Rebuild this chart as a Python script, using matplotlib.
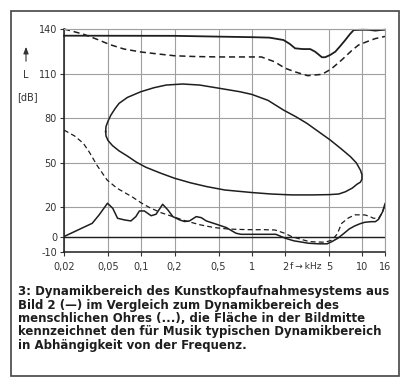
import matplotlib
matplotlib.use('Agg')
import matplotlib.pyplot as plt
from matplotlib.patches import Rectangle

# upper limit of the recording system (solid)
sys_top_f = [0.02, 0.2, 0.57, 1.0, 1.44, 1.93, 2.2, 2.46, 2.9, 3.37, 3.74, 4.3, 4.6, 5.1, 5.68, 6.3, 7.0, 7.7, 8.34, 10.0, 11.5, 13.1, 14.5, 16]
sys_top_L = [135.5, 135.4, 134.8, 134.5, 134.2, 132.6, 130, 127, 126.5, 126.5, 124.7, 121, 121, 122.5, 124.7, 128.5, 132.6, 136.5, 139.3, 139.5, 139.4, 138.9, 139.3, 139.5]

# upper limit of the human ear (dashed)
ear_top_f = [0.02, 0.03, 0.04, 0.052, 0.07, 0.1, 0.15, 0.2, 0.3, 0.5, 0.8, 1.22, 1.6, 2.0, 2.5, 3.2, 4.3, 5.2, 6.5, 8.0, 9.2, 11, 13, 16]
ear_top_L = [140, 136.5, 133, 129.5, 126.5, 124.5, 123, 122, 121.5, 121.2, 121.2, 121.2, 118, 113.6, 111, 108.6, 109.5, 113, 119.2, 125.5, 129.2, 131.5, 133.5, 135]

# typical dynamic range of music (closed area)
music_f = [0.0476, 0.048, 0.050, 0.053, 0.058, 0.063, 0.075, 0.099, 0.13, 0.168, 0.237, 0.337, 0.51, 0.78, 1.0, 1.4, 1.93, 2.5, 3.14, 4.0, 5.1, 6.4, 7.8, 8.8, 9.6, 9.9, 9.9, 9.6, 8.9, 8.1, 7.0, 6.1, 5.0, 3.5, 2.3, 1.5, 1.0, 0.57, 0.39, 0.28, 0.2, 0.15, 0.11, 0.09, 0.075, 0.063, 0.055, 0.050, 0.048, 0.0476]
music_L = [71, 74.5, 78, 82, 86.5, 90, 94, 97.8, 100.5, 102.3, 103, 102.3, 100.1, 97.8, 96, 92, 85.5, 81, 76.6, 71, 65.4, 59.5, 54.1, 50, 45, 42, 39, 37, 35.5, 33, 30.5, 29, 28.6, 28.4, 28.4, 29, 30, 31.7, 34, 36.5, 39.6, 43, 47, 50.5, 54.5, 58, 61.5, 65, 68, 71]

# hearing threshold (dashed)
ear_low_f = [0.02, 0.025, 0.03, 0.034, 0.04, 0.049, 0.06, 0.083, 0.1, 0.118, 0.15, 0.193, 0.25, 0.34, 0.45, 0.6, 0.75, 1.0, 1.3, 1.62, 2.0, 2.3, 2.8, 3.3, 4.0, 4.6, 5.3, 5.9, 6.5, 7.5, 8.6, 9.5, 10.6, 11.5, 12.6, 14.0, 15.0, 16]
ear_low_L = [72, 68, 63, 57, 48, 38.5, 33, 27, 23, 20, 16.5, 13.8, 11, 8.3, 6.5, 5.5, 5.2, 5, 5, 4.8, 2.5, 0.3, -1.5, -3, -3.3, -3.4, -2, 2, 9.3, 13, 15, 15, 14.9, 14, 12.7, 12.7, 16, 21]

# noise floor of the recording system (solid)
sys_low_f = [0.02, 0.036, 0.0415, 0.0495, 0.0552, 0.061, 0.0701, 0.0806, 0.0893, 0.0961, 0.1066, 0.1228, 0.136, 0.156, 0.174, 0.193, 0.222, 0.246, 0.273, 0.314, 0.349, 0.387, 0.477, 0.589, 0.65, 0.72, 0.8, 1.65, 2.0, 2.4, 2.75, 3.25, 4.0, 4.8, 5.3, 6.0, 6.8, 7.6, 8.5, 9.5, 10.5, 12.0, 13.1, 14.0, 15.2, 16]
sys_low_L = [0.4, 9.3, 14.9, 22.8, 19.4, 12.7, 11.6, 10.9, 13.8, 17.6, 17.6, 14.4, 15.4, 22.1, 18.3, 13.8, 11.6, 10.5, 10.9, 13.8, 13.1, 10.9, 8.7, 6.4, 4.5, 2.6, 1.9, 1.9, -0.7, -2.5, -3.2, -4.1, -4.5, -4.5, -3, -0.7, 2.5, 5.5, 7.5, 9, 10, 10.4, 10.4, 12, 17, 22.5]

x_ticks = [0.02, 0.05, 0.1, 0.2, 0.5, 1, 2, 5, 10, 16]
x_labels = ['0,02', '0,05', '0,1', '0,2', '0,5', '1', '2', '5', '10', '16']
y_ticks = [-10, 0, 20, 50, 80, 110, 140]
y_labels = ['-10', '0', '20', '50', '80', '110', '140']

caption = ['3: Dynamikbereich des Kunstkopfaufnahmesystems aus',
           'Bild 2 (\u2014) im Vergleich zum Dynamikbereich des',
           'menschlichen Ohres (...), die Fl\u00e4che in der Bildmitte',
           'kennzeichnet den f\u00fcr Musik typischen Dynamikbereich',
           'in Abh\u00e4ngigkeit von der Frequenz.']

W, H = 407, 377
fig = plt.figure(figsize=(W / 100, H / 100), dpi=100)
ax = fig.add_axes([64 / W, 1 - 252 / H, (385 - 64) / W, (252 - 29) / H])

ink = '#1e1e1e'
grid = '#a0a0a0'
label_col = '#333333'

ax.set_xscale('log')
ax.set_xlim(0.02, 16)
ax.set_ylim(-10, 140)
ax.set_xticks(x_ticks)
ax.set_xticklabels(x_labels)
ax.set_yticks(y_ticks)
ax.set_yticklabels(y_labels)
ax.minorticks_off()
ax.grid(True, color=grid, lw=0.8)
ax.set_axisbelow(True)
ax.tick_params(axis='both', labelsize=7, colors=label_col, length=3, width=0.8)
ax.tick_params(axis='y', pad=2)
ax.tick_params(axis='x', pad=4)
for s in ['top', 'right']:
    ax.spines[s].set_color(grid)
    ax.spines[s].set_linewidth(0.8)
for s in ['left', 'bottom']:
    ax.spines[s].set_color(ink)
    ax.spines[s].set_linewidth(1.1)
ax.axhline(0, color=ink, lw=1.0)

dash = (0, (4, 2.5))
ax.plot(sys_top_f, sys_top_L, color=ink, lw=1.3, clip_on=False)
ax.plot(ear_top_f, ear_top_L, color=ink, lw=1.1, ls=dash, clip_on=False)
ax.plot(music_f, music_L, color=ink, lw=1.1)
ax.plot(ear_low_f, ear_low_L, color=ink, lw=0.9, ls=dash)
ax.plot(sys_low_f, sys_low_L, color=ink, lw=1.1)

# axis unit between the 2 and 5 tick labels
ax.text(2.2, -16.6, 'f\u2009\u2192\u2009kHz', ha='left', va='top',
        fontsize=6.6, color=label_col)

# y-axis label
ax.annotate('', xy=(26 / W, 1 - 44 / H), xytext=(26 / W, 1 - 64 / H), xycoords='figure fraction',
            arrowprops=dict(arrowstyle='-|>,head_length=0.4,head_width=0.15', color=label_col, lw=0.8))
fig.text(26 / W, 1 - 75 / H, 'L', ha='center', va='center', fontsize=7, color=label_col)
fig.text(27 / W, 1 - 97 / H, '[dB]', ha='center', va='center', fontsize=7, color=label_col)

# caption
for i, line in enumerate(caption):
    fig.text(18 / W, 1 - (295.5 + 13.3 * i) / H, line, ha='left', va='baseline',
             fontsize=8.45, fontweight='bold', color=ink)

fig.add_artist(Rectangle((11 / W, 1 - 375.5 / H), (399 - 11) / W, (375.5 - 11) / H,
                         transform=fig.transFigure, fill=False, ec='#444444', lw=1.2))

fig.savefig('out.png', dpi=100, facecolor='white')
